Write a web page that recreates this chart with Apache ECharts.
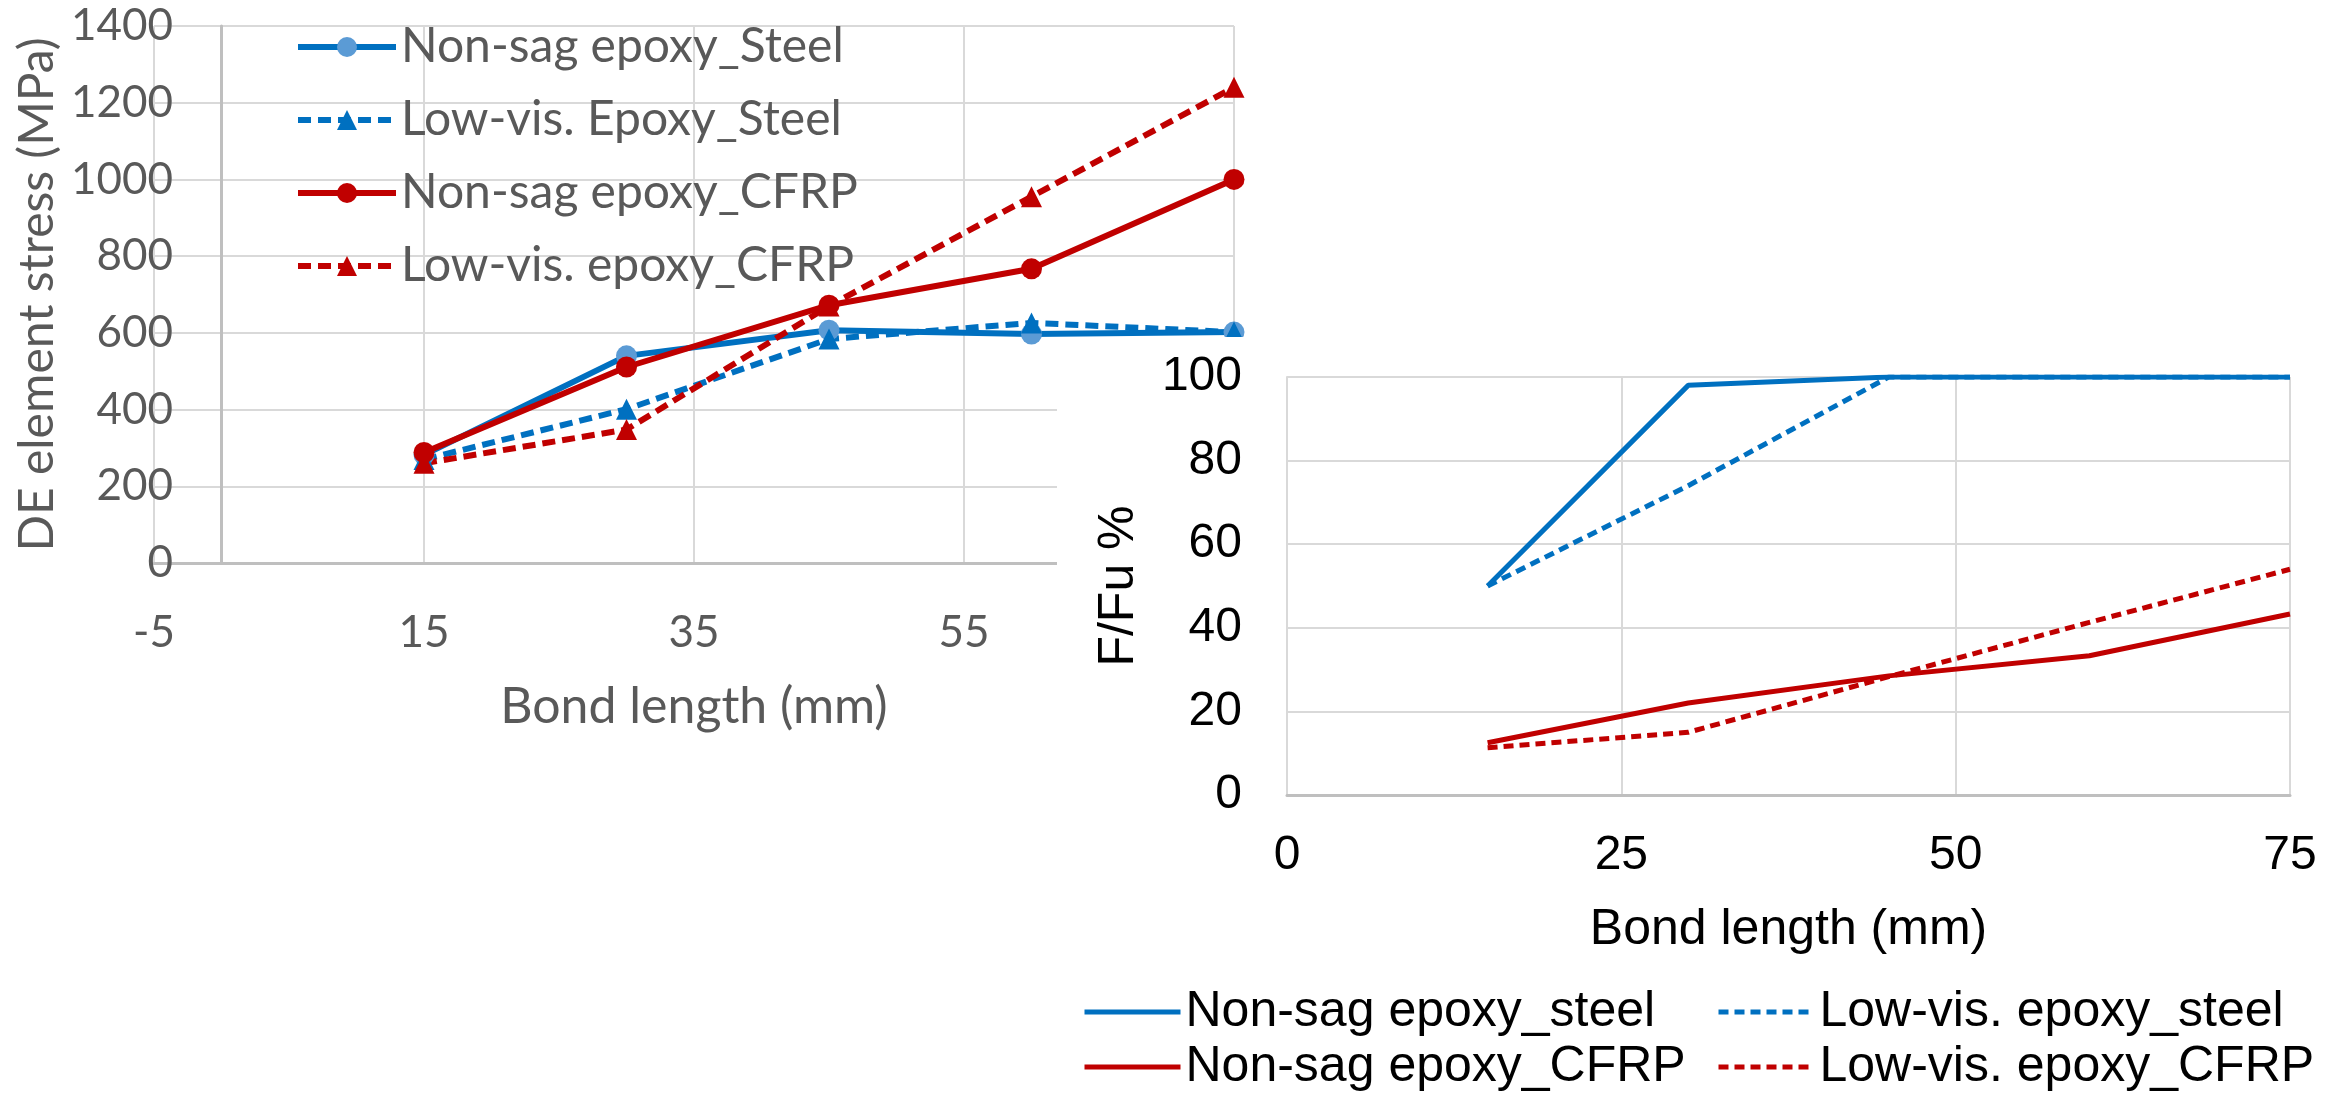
<!DOCTYPE html>
<html>
<head>
<meta charset="utf-8">
<script src="https://cdn.jsdelivr.net/npm/echarts@6/dist/echarts.min.js"></script>
<style>
  html, body { margin: 0; padding: 0; background: #fff; overflow: hidden; }
  #stress { position: absolute; left: 0; top: 0; width: 2343px; height: 1094px; }
  #ratio { position: absolute; left: 1057px; top: 337px; width: 1286px; height: 800px; background: #fff; }
</style>
</head>
<body>
<div id="stress"></div>
<div id="ratio"></div>
<script>
// shared x values (bond length, mm)
const bondLength = [15, 30, 45, 60, 75];

// DE element stress (MPa) - back chart
const stressNonSagSteel = [282, 540, 607, 597, 602];
const stressLowVisSteel = [270, 401, 584, 626, 602];
const stressNonSagCFRP = [288, 511, 672, 767, 1000];
const stressLowVisCFRP = [260, 348, 670, 955, 1240];
const stressNames = ['Non-sag epoxy_Steel', 'Low-vis. Epoxy_Steel', 'Non-sag epoxy_CFRP', 'Low-vis. epoxy_CFRP'];

// F/Fu % - front chart
const ratioNonSagSteel = [50, 98, 100, 100, 100];
const ratioLowVisSteel = [50, 74, 100, 100, 100];
const ratioNonSagCFRP = [12.5, 22, 28.5, 33.3, 43.3];
const ratioLowVisCFRP = [11.3, 15, 28.3, 41.3, 54];
const ratioNames = ['Non-sag epoxy_steel', 'Low-vis. epoxy_steel', 'Non-sag epoxy_CFRP', 'Low-vis. epoxy_CFRP'];

// axis ticks
const stressXTicks = [-5, 75, 20];   // min, max, step
const stressYTicks = [0, 1400, 200];
const ratioXTicks = [0, 75, 25];
const ratioYTicks = [0, 100, 20];

const BLUE = '#0070C0';
const LIGHT_BLUE = '#5B9BD5';
const RED = '#C00000';
const GREY_TEXT = '#595959';
const GRID = '#D9D9D9';
const AXIS = '#BFBFBF';

const pairs = (ys) => bondLength.map((x, i) => [x, ys[i]]);

// ---------- back chart: DE element stress ----------
const leftFont = 'Lato, "Open Sans", sans-serif';
const stressChart = echarts.init(document.getElementById('stress'));

const stressLine = (name, ys, lineColor, markColor, symbol, dashed) => ({
    name,
    type: 'line',
    data: pairs(ys),
    symbol,
    symbolSize: 21,
    lineStyle: { color: lineColor, width: 6, type: dashed ? [13, 7] : 'solid' },
    itemStyle: { color: markColor, borderWidth: 0 },
    z: 3,
});

stressChart.setOption({
    animation: false,
    textStyle: { fontFamily: leftFont },
    grid: { left: 154, right: 1109, top: 26, bottom: 531, outerBoundsMode: 'none' },
    legend: {
        orient: 'vertical',
        left: 290,
        top: 17,
        itemWidth: 98,
        itemHeight: 25,
        itemGap: 23,
        lineStyle: { width: 6 },
        textStyle: { color: GREY_TEXT, fontSize: 48, lineHeight: 50, fontFamily: leftFont },
        data: stressNames,
    },
    xAxis: {
        type: 'value',
        min: stressXTicks[0],
        max: stressXTicks[1],
        interval: stressXTicks[2],
        name: 'Bond length (mm)',
        nameLocation: 'middle',
        nameGap: 119,
        nameMoveOverlap: false,
        nameTextStyle: { color: GREY_TEXT, fontSize: 50, fontFamily: leftFont },
        axisLine: { lineStyle: { color: AXIS, width: 3 } },
        axisTick: { show: false },
        axisLabel: { color: GREY_TEXT, fontSize: 44, margin: 48, fontFamily: leftFont },
        splitLine: { show: true, lineStyle: { color: GRID, width: 2 } },
    },
    yAxis: {
        type: 'value',
        min: stressYTicks[0],
        max: stressYTicks[1],
        interval: stressYTicks[2],
        name: 'DE element stress (MPa)',
        nameLocation: 'middle',
        nameGap: 92,
        nameMoveOverlap: false,
        nameTextStyle: { color: GREY_TEXT, fontSize: 48, fontFamily: leftFont },
        axisLine: { show: true, onZero: true, lineStyle: { color: AXIS, width: 3 } },
        axisTick: { show: false },
        axisLabel: { color: GREY_TEXT, fontSize: 44, margin: -19, fontFamily: leftFont, formatter: (v) => String(v) },
        splitLine: { show: true, lineStyle: { color: GRID, width: 2 } },
    },
    series: [
        stressLine(stressNames[0], stressNonSagSteel, BLUE, LIGHT_BLUE, 'circle', false),
        stressLine(stressNames[1], stressLowVisSteel, BLUE, BLUE, 'triangle', true),
        stressLine(stressNames[2], stressNonSagCFRP, RED, RED, 'circle', false),
        stressLine(stressNames[3], stressLowVisCFRP, RED, RED, 'triangle', true),
    ],
});

// ---------- front chart: F/Fu % ----------
const rightFont = '"Liberation Sans", Arial, sans-serif';
const ratioChart = echarts.init(document.getElementById('ratio'));

const ratioLine = (name, ys, color, dashed) => ({
    name,
    type: 'line',
    data: pairs(ys),
    symbol: 'none',
    lineStyle: { color, width: 5, type: dashed ? [10, 6] : 'solid' },
    itemStyle: { color },
});

const ratioLegend = (left, names) => ({
    orient: 'vertical',
    left,
    top: 648,
    padding: 0,
    itemWidth: 96,
    itemHeight: 20,
    itemGap: 1,
    lineStyle: { width: 5 },
    itemStyle: { opacity: 0 },
    textStyle: { color: '#000', fontSize: 50, lineHeight: 54, fontFamily: rightFont },
    data: names,
});

ratioChart.setOption({
    animation: false,
    textStyle: { fontFamily: rightFont },
    grid: { left: 230, right: 53, top: 40, bottom: 342, outerBoundsMode: 'none' },
    legend: [
        ratioLegend(25, [ratioNames[0], ratioNames[2]]),
        ratioLegend(659, [ratioNames[1], ratioNames[3]]),
    ],
    xAxis: {
        type: 'value',
        min: ratioXTicks[0],
        max: ratioXTicks[1],
        interval: ratioXTicks[2],
        name: 'Bond length (mm)',
        nameLocation: 'middle',
        nameGap: 110,
        nameMoveOverlap: false,
        nameTextStyle: { color: '#000', fontSize: 50, fontFamily: rightFont },
        axisLine: { lineStyle: { color: AXIS, width: 3 } },
        axisTick: { show: false },
        axisLabel: { color: '#000', fontSize: 48, margin: 37, fontFamily: rightFont },
        splitLine: { show: true, showMinLine: false, lineStyle: { color: GRID, width: 2 } },
    },
    yAxis: {
        type: 'value',
        min: ratioYTicks[0],
        max: ratioYTicks[1],
        interval: ratioYTicks[2],
        name: 'F/Fu %',
        nameLocation: 'middle',
        nameGap: 143,
        nameMoveOverlap: false,
        nameTextStyle: { color: '#000', fontSize: 50, fontFamily: rightFont },
        axisLine: { show: true, lineStyle: { color: GRID, width: 2 } },
        axisTick: { show: false },
        axisLabel: { color: '#000', fontSize: 48, margin: 45, fontFamily: rightFont },
        splitLine: { show: true, lineStyle: { color: GRID, width: 2 } },
    },
    series: [
        ratioLine(ratioNames[0], ratioNonSagSteel, BLUE, false),
        ratioLine(ratioNames[1], ratioLowVisSteel, BLUE, true),
        ratioLine(ratioNames[2], ratioNonSagCFRP, RED, false),
        ratioLine(ratioNames[3], ratioLowVisCFRP, RED, true),
    ],
});
</script>
</body>
</html>
